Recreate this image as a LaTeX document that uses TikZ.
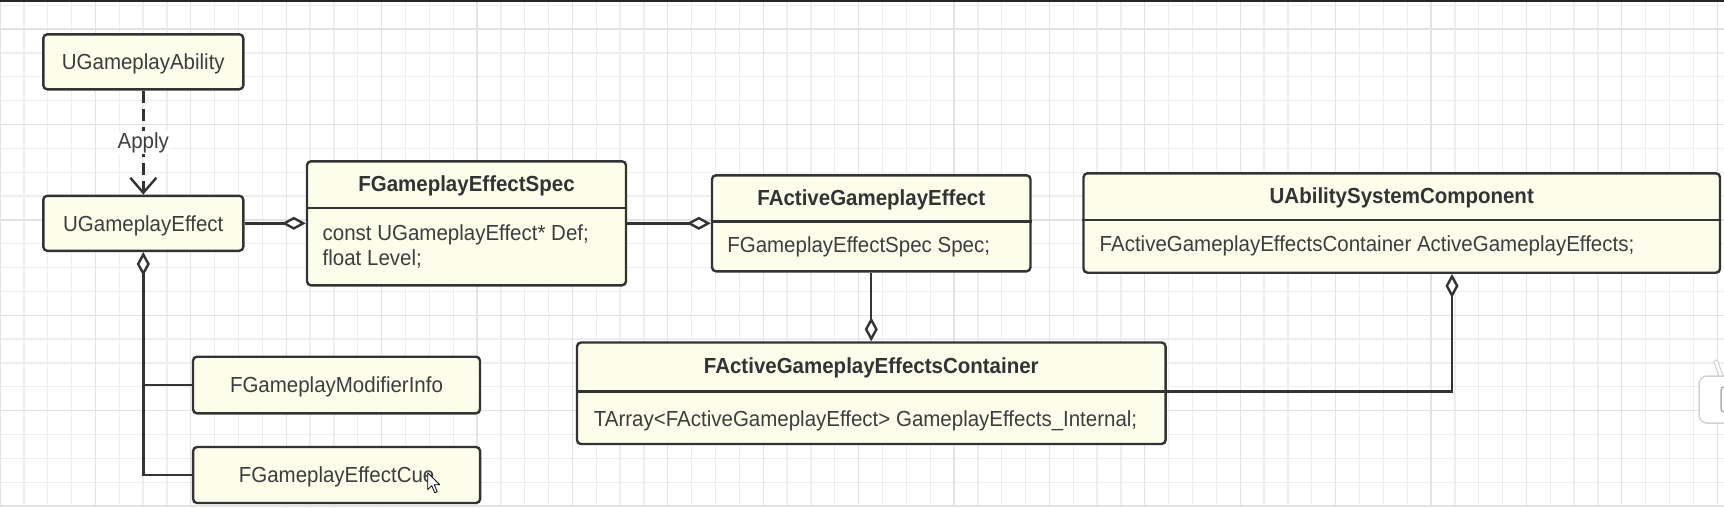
\documentclass[tikz,border=0pt]{standalone}
\usepackage{fontspec}
\setmainfont[FakeStretch=0.94]{Liberation Sans}
\usetikzlibrary{arrows.meta,calc}
\definecolor{gridminor}{HTML}{EEEEEE}
\definecolor{gridmajor}{HTML}{E3E3E3}
\definecolor{boxfill}{HTML}{FDFDEC}
\definecolor{ink}{HTML}{333333}
\definecolor{txt}{HTML}{3D3D3D}
\newcommand{\dfont}{\fontsize{21.8}{26}\selectfont}
\tikzset{
  gridminorline/.style={draw=gridminor, line width=1.3pt},
  gridmajorline/.style={draw=gridmajor, line width=1.3pt},
  box/.style={draw=ink, line width=2.4pt, fill=boxfill, rounded corners=4pt,
    inner sep=0pt, text=txt, font=\dfont, text height=15.6pt, text depth=0pt},
  ttl/.style={inner sep=0pt, text=ink, font=\dfont\bfseries, anchor=base},
  bdy/.style={inner sep=0pt, text=txt, font=\dfont, anchor=base west},
  divider/.style={draw=ink, line width=2.4pt},
  conn/.style={draw=ink, line width=2.4pt},
  agg/.style={conn, -{Diamond[length=24pt,width=13pt,fill=white]}},
  aggstart/.style={conn, {Diamond[length=24pt,width=13pt,fill=white]}-},
  depend/.style={conn, dash pattern=on 12pt off 6pt, -{Straight Barb[length=15pt,width=26pt]}},
  lbl/.style={inner sep=1.5pt, fill=white, text=txt, font=\dfont}
}
\begin{document}
\begin{tikzpicture}[x=1pt,y=-1pt]
\useasboundingbox (0,0) rectangle (1724,507);
\begin{scope}
\clip (0,0) rectangle (1724,507);
% grid
\foreach \i in {0,...,72} { \draw[gridminorline] (\i*23.85,0) -- (\i*23.85,507); }
\foreach \j in {0,...,21} { \draw[gridminorline] (0,5.2+\j*23.85) -- (1724,5.2+\j*23.85); }
\foreach \i in {0,4,...,72} { \draw[gridmajorline] (\i*23.85,0) -- (\i*23.85,507); }
\foreach \j in {1,5,...,21} { \draw[gridmajorline] (0,5.2+\j*23.85) -- (1724,5.2+\j*23.85); }
\fill[black!85] (0,0) rectangle (1724,2.2);

% simple boxes
\node[box, minimum width=200pt, minimum height=55pt] (abil) at (143.3,61.8) {UGameplayAbility};
\node[box, minimum width=200pt, minimum height=55pt] (ge) at (143.3,223.3) {UGameplayEffect};
\node[box, minimum width=287pt, minimum height=56.6pt] (mod) at (336.5,385) {FGameplayModifierInfo};
\node[box, minimum width=287pt, minimum height=56pt] (cue) at (336.6,475) {FGameplayEffectCue};

% class boxes
\node[box, minimum width=319pt, minimum height=124pt] (spec) at (466.5,223.3) {};
\draw[divider] ($(spec.north west)+(0,47.7)$) -- ($(spec.north east)+(0,47.7)$);
\node[ttl] (spect) at ($(spec.north)+(0,31.4)$) {FGameplayEffectSpec};
\node[bdy] (specb1) at ($(spec.north west)+(16.7,80.4)$) {const UGameplayEffect* Def;};
\node[bdy] (specb2) at ($(spec.north west)+(16.7,105.4)$) {float Level;};

\node[box, minimum width=318.5pt, minimum height=96pt] (fage) at (871.25,223.3) {};
\draw[divider] ($(fage.north west)+(0,47.4)$) -- ($(fage.north east)+(0,47.4)$);
\node[ttl] (faget) at ($(fage.north)+(0,31.4)$) {FActiveGameplayEffect};
\node[bdy] (fageb) at ($(fage.north west)+(16.3,78.7)$) {FGameplayEffectSpec Spec;};

\node[box, minimum width=636.5pt, minimum height=99.4pt] (uasc) at (1401.75,223) {};
\draw[divider] ($(uasc.north west)+(0,47.7)$) -- ($(uasc.north east)+(0,47.7)$);
\node[ttl] (uasct) at ($(uasc.north)+(0,31.7)$) {UAbilitySystemComponent};
\node[bdy] (uascb) at ($(uasc.north west)+(17.2,79.7)$) {FActiveGameplayEffectsContainer ActiveGameplayEffects;};

\node[box, minimum width=588.6pt, minimum height=101.5pt] (cont) at (871.3,393.25) {};
\draw[divider] ($(cont.north west)+(0,50.2)$) -- ($(cont.north east)+(0,50.2)$);
\node[ttl] (contt) at ($(cont.north)+(0,32.5)$) {FActiveGameplayEffectsContainer};
\node[bdy] (contb) at ($(cont.north west)+(17.9,85.5)$) {TArray<FActiveGameplayEffect> GameplayEffects\_Internal;};

% connectors
\draw[depend] (abil.south) -- node[lbl] (apply) {Apply} (ge.north);
\draw[agg] (ge.east) -- (spec.west);
\draw[agg] (spec.east) -- (fage.west);
\draw[agg] (fage.south) -- (fage.south |- cont.north);
\draw[aggstart] (ge.south) -- (ge.south |- cue.west) -- (cue.west);
\draw[conn] (ge.south |- mod.west) -- (mod.west);
\draw[agg] ($(cont.north east)+(0,50.2)$) -| ([xshift=50.25pt]uasc.south);

% mouse cursor
\draw[fill=white, draw=black, line width=0.8pt, line join=round]
  (427.7,472.7) -- ++(0,17) -- ++(4,-4) -- ++(3,7) -- ++(2.5,-1) -- ++(-3,-7) -- ++(5.5,0) -- cycle;

% overlay icon at right edge
\draw[line width=5pt, gray!35, line cap=round] (1716,362) -- (1721,376);
\draw[line width=2.6pt, white, line cap=round] (1716,362) -- (1721,376);
\draw[fill=white, draw=gray!35, line width=1.5pt, rounded corners=8pt] (1699,376) rectangle (1750,423);
\draw[gray!60, line width=1.5pt, rounded corners=3pt] (1721,387) rectangle (1745,412);
\end{scope}
\end{tikzpicture}
\end{document}
